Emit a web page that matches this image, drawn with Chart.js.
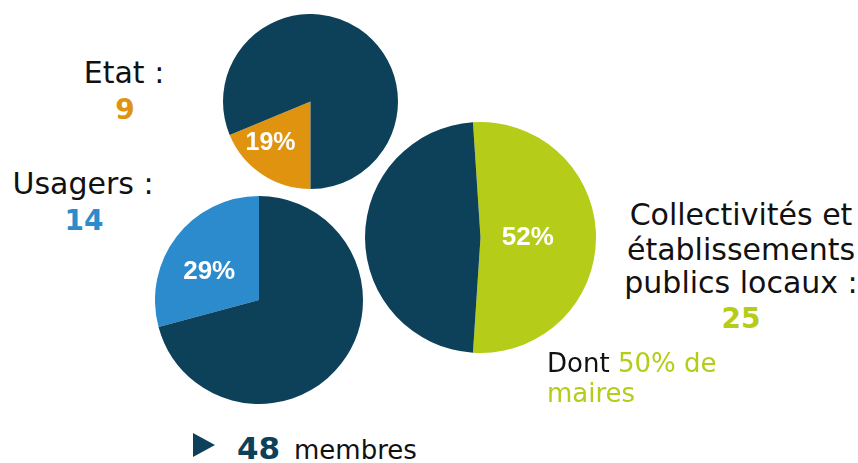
<!doctype html>
<html lang="fr">
<head>
<meta charset="utf-8">
<title>Composition - 48 membres</title>
<script src="https://cdn.jsdelivr.net/npm/chart.js@4.4.0/dist/chart.umd.min.js"></script>
<style>
  html, body { margin: 0; padding: 0; background: #fff; }
  body { width: 858px; height: 463px; position: relative; overflow: hidden; font-family: "DejaVu Sans", Verdana, sans-serif; color: #111; }
  .pie { position: absolute; }
  .t { position: absolute; white-space: nowrap; line-height: 1; }
  .c { transform: translateX(-50%); }
  .big { font-size: 30px; }
  .num { font-size: 28px; font-weight: bold; }
  .tri { position: absolute; left: 193px; top: 433px; width: 0; height: 0;
         border-top: 12px solid transparent; border-bottom: 12px solid transparent; border-left: 22px solid #0c4159; }
</style>
</head>
<body>

<div class="pie" style="left:223px;top:14px"><canvas id="pEtat" width="175" height="175"></canvas></div>
<div class="pie" style="left:155px;top:196px"><canvas id="pUsagers" width="208" height="208"></canvas></div>
<div class="pie" style="left:365px;top:122px"><canvas id="pColl" width="231" height="231"></canvas></div>

<div class="t c big" style="left:124px;top:58px">Etat :</div>
<div class="t c num" style="left:125px;top:96px;color:#e0930f">9</div>

<div class="t c big" style="left:83px;top:169px">Usagers :</div>
<div class="t c num" style="left:84px;top:207px;color:#2b8bcc">14</div>

<div class="t c big" style="left:741px;top:200px">Collectivités et</div>
<div class="t c big" style="left:741px;top:235px">établissements</div>
<div class="t c big" style="left:741px;top:268px">publics locaux :</div>
<div class="t c num" style="left:741px;top:305px;color:#b5cc18">25</div>

<div class="t" style="left:547px;top:350px;font-size:26px">Dont <span style="color:#b5cc18">50% de</span></div>
<div class="t" style="left:547px;top:380px;font-size:26px;color:#b5cc18">maires</div>

<div class="tri"></div>
<div class="t" style="left:237px;top:433px;font-size:31px;font-weight:bold;color:#0c4159">48</div>
<div class="t" style="left:294px;top:437px;font-size:26px">membres</div>

<script>
// donnees
var totalMembres = 48;
var groupes = ['Etat', 'Usagers', 'Collectivités et établissements publics locaux'];
var membres = [9, 14, 25];
var pourcentages = ['19%', '29%', '52%'];
var couleurs = ['#e0930f', '#2b8bcc', '#b5cc18'];
var navy = '#0c4159';

// label blanc dans la part colorée
var pctLabel = {
  id: 'pctLabel',
  afterDatasetsDraw: function (chart, args, opts) {
    var arc = chart.getDatasetMeta(0).data[0];
    var p = arc.getProps(['x', 'y', 'startAngle', 'endAngle', 'outerRadius'], true);
    var mid = (p.startAngle + p.endAngle) / 2 + (opts.shift || 0) * Math.PI / 180;
    var r = p.outerRadius * opts.f;
    var ctx = chart.ctx;
    ctx.save();
    ctx.fillStyle = '#fff';
    ctx.font = 'bold ' + opts.size + 'px "Liberation Sans", Arial, sans-serif';
    ctx.textAlign = 'center';
    ctx.textBaseline = 'middle';
    ctx.fillText(opts.text, p.x + Math.cos(mid) * r, p.y + Math.sin(mid) * r);
    ctx.restore();
  }
};

function camembert(id, i, rotation, lbl) {
  new Chart(document.getElementById(id), {
    type: 'pie',
    data: {
      labels: [groupes[i], 'Autres'],
      datasets: [{
        data: [membres[i], totalMembres - membres[i]],
        backgroundColor: [couleurs[i], navy],
        borderWidth: 0
      }]
    },
    options: {
      responsive: false,
      animation: false,
      devicePixelRatio: 1,
      rotation: rotation,
      layout: { padding: 0 },
      plugins: {
        legend: { display: false },
        tooltip: { enabled: false },
        pctLabel: { text: pourcentages[i], f: lbl.f, shift: lbl.shift, size: lbl.size }
      }
    },
    plugins: [pctLabel]
  });
}

camembert('pEtat', 0, 180, { f: 0.66, shift: 10, size: 25 });
camembert('pUsagers', 1, 255, { f: 0.55, shift: -8, size: 26 });
camembert('pColl', 2, -3.75, { f: 0.41, shift: 0, size: 26 });
</script>
</body>
</html>
